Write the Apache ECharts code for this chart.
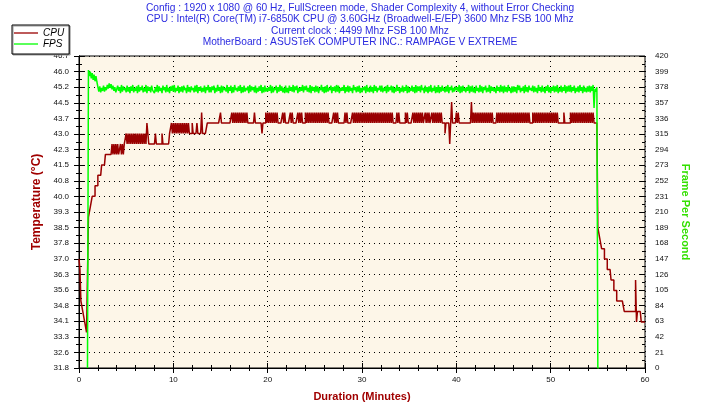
<!DOCTYPE html>
<html>
<head>
<meta charset="utf-8">
<script src="https://cdn.jsdelivr.net/npm/echarts@6/dist/echarts.min.js"></script>
<style>
    html, body {margin: 0; padding: 0; background: #fff;}
    #chart {width: 720px; height: 413px;}
</style>
</head>
<body>
<div id="chart"></div>
<script>
var titleLines = [
    'Config : 1920 x 1080 @ 60 Hz, FullScreen mode, Shader Complexity 4, without Error Checking',
    'CPU : Intel(R) Core(TM) i7-6850K CPU @ 3.60GHz (Broadwell-E/EP) 3600 Mhz FSB 100 Mhz',
    'Current clock : 4499 Mhz FSB 100 Mhz',
    'MotherBoard : ASUSTeK COMPUTER INC.: RAMPAGE V EXTREME'
];

// one sample every 0.1 minute (one row = 2 minutes)
var sampleStep = 0.1;

// temperature axis (left)
var tempMin = 31.8, tempMax = 46.7, tempStep = 0.745;
var tempTicks = ['31.8', '32.6', '33.3', '34.1', '34.8', '35.6', '36.3', '37.0', '37.8', '38.5', '39.3',
    '40.0', '40.8', '41.5', '42.3', '43.0', '43.7', '44.5', '45.2', '46.0', '46.7'];

// fps axis (right)
var fpsMin = 0, fpsMax = 420, fpsStep = 21;

var cpuTemp = [
    37.0, 36.5, 35.0, 35.0, 34.5, 34.5, 34.0, 34.0, 33.5, 33.5, 39.0, 39.0, 39.5, 39.5, 40.0, 40.0, 40.0, 40.5, 40.5, 40.5,
    41.0, 41.0, 41.0, 41.0, 41.5, 41.5, 41.5, 41.5, 42.0, 42.0, 42.0, 42.0, 42.0, 42.0, 42.0, 42.5, 42.0, 42.5, 42.0, 42.5,
    42.0, 42.5, 42.0, 42.0, 42.5, 42.0, 42.5, 42.0, 42.5, 42.5, 43.0, 42.5, 43.0, 42.5, 43.0, 42.5, 43.0, 42.5, 43.0, 42.5,
    43.0, 42.5, 43.0, 42.5, 43.0, 42.5, 43.0, 42.5, 43.0, 42.5, 43.0, 42.5, 43.5, 43.0, 42.5, 42.5, 42.5, 42.5, 42.5, 42.5,
    42.5, 43.0, 42.5, 42.5, 42.5, 42.5, 42.5, 42.5, 43.0, 42.5, 42.5, 42.5, 42.5, 42.5, 42.5, 42.5, 43.0, 43.0, 43.5, 43.0,
    43.5, 43.0, 43.5, 43.0, 43.5, 43.0, 43.5, 43.0, 43.5, 43.0, 43.5, 43.0, 43.5, 43.0, 43.5, 43.0, 43.5, 43.0, 43.0, 43.0,
    43.5, 43.0, 43.0, 43.0, 43.0, 43.5, 43.0, 43.0, 43.0, 43.0, 44.0, 43.0, 43.0, 43.0, 43.0, 43.0, 43.5, 43.5, 43.5, 43.5,
    43.5, 43.5, 43.5, 43.5, 43.5, 43.5, 43.5, 43.5, 43.5, 43.5, 44.0, 43.5, 43.5, 43.5, 43.5, 43.5, 43.5, 43.5, 43.5, 43.5,
    43.5, 43.5, 44.0, 43.5, 44.0, 43.5, 44.0, 43.5, 44.0, 43.5, 44.0, 43.5, 44.0, 43.5, 44.0, 43.5, 44.0, 43.5, 44.0, 43.5,
    43.5, 43.5, 43.5, 43.5, 43.5, 43.5, 44.0, 43.5, 43.5, 43.5, 43.5, 43.5, 43.5, 43.5, 43.0, 43.5, 43.5, 43.5, 44.0, 43.5,
    44.0, 43.5, 44.0, 43.5, 44.0, 43.5, 44.0, 43.5, 44.0, 43.5, 44.0, 43.5, 43.5, 43.5, 43.5, 43.5, 44.0, 43.5, 44.0, 43.5,
    43.5, 43.5, 43.5, 43.5, 44.0, 43.5, 44.0, 43.5, 43.5, 43.5, 43.5, 43.5, 44.0, 43.5, 44.0, 43.5, 44.0, 43.5, 43.5, 43.5,
    44.0, 43.5, 44.0, 43.5, 44.0, 43.5, 44.0, 43.5, 44.0, 43.5, 44.0, 43.5, 44.0, 43.5, 44.0, 43.5, 44.0, 43.5, 44.0, 43.5,
    44.0, 43.5, 44.0, 43.5, 44.0, 43.5, 43.5, 43.5, 43.5, 43.5, 44.0, 43.5, 44.0, 43.5, 44.0, 43.5, 43.5, 43.5, 43.5, 43.5,
    43.5, 43.5, 44.0, 43.5, 44.0, 43.5, 43.5, 43.5, 43.5, 43.5, 44.0, 43.5, 44.0, 43.5, 44.0, 43.5, 44.0, 43.5, 44.0, 43.5,
    44.0, 43.5, 44.0, 43.5, 44.0, 43.5, 44.0, 43.5, 44.0, 43.5, 44.0, 43.5, 44.0, 43.5, 44.0, 43.5, 44.0, 43.5, 44.0, 43.5,
    44.0, 43.5, 44.0, 43.5, 44.0, 43.5, 44.0, 43.5, 44.0, 43.5, 44.0, 43.5, 44.0, 43.5, 43.5, 43.5, 43.5, 44.0, 43.5, 44.0,
    43.5, 43.5, 43.5, 43.5, 43.5, 43.5, 44.0, 43.5, 44.0, 43.5, 43.5, 43.5, 43.5, 43.5, 44.0, 43.5, 44.0, 43.5, 44.0, 43.5,
    44.0, 43.5, 44.0, 43.5, 44.0, 43.5, 43.5, 44.0, 43.5, 44.0, 43.5, 44.0, 43.5, 43.5, 44.0, 43.5, 44.0, 43.5, 44.0, 43.5,
    44.0, 43.5, 44.0, 43.5, 44.0, 43.5, 43.5, 43.5, 43.0, 43.5, 43.5, 43.5, 43.5, 42.5, 43.5, 44.5, 43.5, 43.5, 43.5, 43.5,
    44.0, 43.5, 44.0, 43.5, 43.5, 43.5, 43.5, 43.5, 43.5, 43.5, 43.5, 43.5, 43.5, 43.5, 43.5, 43.5, 44.5, 43.5, 44.0, 43.5,
    44.0, 43.5, 44.0, 43.5, 44.0, 43.5, 44.0, 43.5, 44.0, 43.5, 44.0, 43.5, 44.0, 43.5, 44.0, 43.5, 44.0, 43.5, 44.0, 43.5,
    43.5, 43.5, 43.5, 44.0, 43.5, 44.0, 43.5, 44.0, 43.5, 44.0, 43.5, 44.0, 43.5, 44.0, 43.5, 44.0, 43.5, 44.0, 43.5, 44.0,
    43.5, 44.0, 43.5, 44.0, 43.5, 44.0, 43.5, 44.0, 43.5, 44.0, 43.5, 44.0, 43.5, 44.0, 43.5, 44.0, 43.5, 44.0, 43.5, 43.5,
    43.5, 44.0, 43.5, 44.0, 43.5, 44.0, 43.5, 44.0, 43.5, 44.0, 43.5, 44.0, 43.5, 44.0, 43.5, 44.0, 43.5, 44.0, 43.5, 44.0,
    43.5, 44.0, 43.5, 44.0, 43.5, 44.0, 43.5, 44.0, 43.5, 43.5, 43.5, 43.5, 43.5, 43.5, 44.0, 43.5, 43.5, 43.5, 43.5, 43.5,
    43.5, 44.0, 43.5, 44.0, 43.5, 44.0, 43.5, 44.0, 43.5, 44.0, 43.5, 44.0, 43.5, 44.0, 43.5, 44.0, 43.5, 44.0, 43.5, 44.0,
    43.5, 44.0, 43.5, 44.0, 43.5, 44.0, 43.5, 43.5, 43.5, 43.5, 38.5, 38.5, 38.0, 38.0, 37.5, 37.5, 37.5, 37.0, 37.0, 37.0,
    36.5, 36.5, 36.5, 36.5, 36.0, 36.0, 36.0, 35.5, 35.5, 35.5, 35.0, 35.0, 35.0, 35.0, 35.0, 35.0, 35.0, 35.0, 34.5, 34.5,
    34.5, 34.5, 34.5, 34.5, 34.5, 34.5, 34.5, 34.5, 34.5, 34.5, 36.0, 34.0, 34.5, 34.5, 34.5, 34.5, 34.0, 34.0, 34.0, 34.0,
    34.0
];

var fps = [
    null, null, null, null, null, null, null, null, null, 0, 401, 393, 399, 390, 397, 388, 395, 386, 393, 385,
    387, 372, 379, 371, 377, 373, 380, 372, 378, 374, 381, 376, 383, 377, 382, 375, 380, 373, 378, 371,
    371, 380, 373, 378, 370, 381, 372, 379, 374, 377, 371, 380, 372, 378, 370, 379, 373, 381, 371, 377,
    373, 379, 370, 381, 372, 378, 374, 380, 371, 377, 372, 381, 370, 379, 373, 378, 371, 380, 374, 376,
    370, 378, 372, 381, 371, 379, 373, 377, 370, 380, 374, 378, 371, 381, 372, 377, 370, 379, 373, 380,
    372, 381, 371, 377, 373, 380, 370, 378, 372, 379, 371, 380, 374, 377, 370, 381, 372, 378, 371, 379,
    374, 377, 371, 380, 372, 381, 370, 378, 373, 379, 371, 377, 372, 380, 370, 378, 374, 381, 371, 378,
    371, 379, 374, 380, 370, 377, 372, 381, 373, 378, 370, 380, 371, 379, 374, 377, 372, 381, 370, 378,
    373, 380, 370, 378, 371, 381, 374, 377, 372, 379, 373, 381, 370, 378, 371, 380, 372, 377, 374, 379,
    370, 381, 372, 379, 374, 378, 371, 380, 370, 377, 372, 379, 373, 381, 370, 378, 371, 380, 372, 377,
    372, 378, 373, 381, 370, 379, 371, 377, 374, 380, 370, 378, 372, 381, 373, 379, 371, 377, 370, 380,
    371, 377, 370, 380, 373, 378, 372, 381, 371, 379, 374, 380, 370, 377, 372, 378, 373, 381, 371, 379,
    374, 380, 372, 377, 371, 381, 370, 379, 373, 378, 371, 380, 372, 379, 370, 377, 374, 381, 372, 378,
    370, 379, 371, 381, 372, 377, 374, 380, 370, 378, 373, 379, 371, 381, 372, 380, 370, 377, 373, 378,
    373, 381, 370, 378, 372, 380, 371, 379, 373, 377, 370, 381, 374, 378, 371, 379, 372, 380, 370, 377,
    371, 378, 374, 379, 370, 381, 372, 377, 371, 380, 372, 378, 370, 381, 373, 379, 371, 377, 374, 380,
    372, 380, 371, 377, 373, 379, 370, 381, 372, 378, 374, 380, 371, 379, 370, 377, 372, 381, 373, 378,
    370, 377, 372, 380, 371, 378, 373, 381, 370, 379, 371, 377, 373, 380, 372, 378, 370, 381, 371, 379,
    373, 379, 371, 381, 374, 377, 370, 380, 372, 378, 370, 379, 372, 381, 371, 377, 373, 380, 370, 378,
    371, 381, 370, 378, 372, 380, 373, 377, 371, 379, 372, 381, 370, 378, 374, 380, 371, 377, 372, 379,
    374, 378, 372, 381, 370, 379, 371, 380, 373, 377, 371, 378, 373, 381, 370, 379, 372, 380, 371, 377,
    370, 380, 373, 377, 371, 381, 372, 379, 370, 378, 374, 380, 371, 377, 372, 381, 370, 379, 373, 378,
    372, 377, 370, 380, 373, 378, 371, 381, 372, 379, 370, 380, 372, 378, 371, 381, 373, 377, 370, 379,
    371, 379, 372, 378, 370, 381, 374, 380, 371, 377, 373, 379, 370, 381, 372, 378, 371, 380, 374, 377,
    373, 380, 371, 379, 372, 377, 370, 381, 373, 378, 371, 380, 372, 377, 370, 379, 373, 381, 371, 378,
    370, 378, 373, 380, 371, 379, 372, 381, 370, 377, 372, 380, 371, 378, 373, 381, 370, 379, 372, 380,
    372, 381, 371, 378, 373, 380, 370, 377, 372, 379, 371, 381, 373, 378, 370, 380, 372, 377, 371, 379,
    372, 380, 371, 379, 373, 381, 350, 376, 372, 378, 0, null, null, null, null, null, null, null, null, null,
    null, null, null, null, null, null, null, null, null, null, null, null, null, null, null, null, null, null, null, null,
    null, null, null, null, null, null, null, null, null, null, null, null, null, null, null, null, null, null, null, null,
    null
];

var minutes = cpuTemp.map(function (v, i) {
    return +(i * sampleStep).toFixed(1);
});
var cpuData = cpuTemp.map(function (v, i) {
    return [minutes[i], v];
});
var fpsData = fps.map(function (v, i) {
    return [minutes[i], v];
});

var FONT = 'Liberation Sans, Arial, sans-serif';
var dotted = {color: '#000', width: 1, type: [1, 4]};

function tickAxis(pos, min, max, step) {
    // second axis on the same side, only to draw the ticks on the inner side
    return {
        type: 'value', position: pos, min: min, max: max, interval: step,
        axisLine: {show: false},
        axisLabel: {show: false},
        splitLine: {show: false},
        axisTick: {show: true, inside: true, length: 5, lineStyle: {color: '#000'}},
        minorTick: {show: true, splitNumber: 2, length: 3, lineStyle: {color: '#000'}}
    };
}

var myChart = echarts.init(document.getElementById('chart'), null, {renderer: 'canvas'});
var option = {
    animation: false,
    backgroundColor: '#fff',
    title: {
        text: titleLines.join('\n'),
        left: 'center',
        top: 2,
        padding: 0,
        textStyle: {fontFamily: FONT, fontSize: 10.2, fontWeight: 'normal', color: '#2B2BE0', lineHeight: 11.5}
    },
    legend: {
        data: ['CPU', 'FPS'],
        orient: 'vertical',
        left: 12, top: 25,
        icon: 'path://M0,0H24V1.3H0Z',
        itemWidth: 24, itemHeight: 10, itemGap: 1,
        padding: [3, 5, 5, 2],
        backgroundColor: '#fff',
        borderColor: '#000', borderWidth: 1,
        shadowColor: '#999', shadowOffsetX: 1, shadowOffsetY: 1, shadowBlur: 0,
        textStyle: {fontFamily: FONT, fontSize: 10, fontStyle: 'italic', color: '#000'}
    },
    grid: {
        left: 79, right: 75, top: 56, bottom: 45,
        show: true, backgroundColor: '#FDF6E8', borderColor: '#000', borderWidth: 1,
        containLabel: false, outerBoundsMode: 'none'
    },
    xAxis: [{
        type: 'value', min: 0, max: 60, interval: 10,
        name: 'Duration (Minutes)', nameLocation: 'middle', nameGap: 23,
        nameTextStyle: {fontFamily: FONT, fontSize: 11, fontWeight: 'bold', color: '#A00000'},
        axisLine: {show: true, lineStyle: {color: '#000'}},
        axisTick: {show: true, length: 5, lineStyle: {color: '#000'}},
        minorTick: {show: true, splitNumber: 5, length: 3, lineStyle: {color: '#000'}},
        axisLabel: {fontFamily: FONT, fontSize: 8, color: '#111', margin: 8},
        splitLine: {show: true, lineStyle: dotted}
    }, {
        type: 'value', position: 'bottom', min: 0, max: 60, interval: 10,
        axisLine: {show: false},
        axisLabel: {show: false},
        splitLine: {show: false},
        axisTick: {show: true, inside: true, length: 5, lineStyle: {color: '#000'}},
        minorTick: {show: true, splitNumber: 5, length: 3, lineStyle: {color: '#000'}}
    }],
    yAxis: [{
        type: 'value', position: 'left', min: tempMin, max: tempMax, interval: tempStep,
        name: 'Temperature (°C)', nameLocation: 'middle', nameGap: 26,
        nameTextStyle: {fontFamily: FONT, fontSize: 12, fontWeight: 'bold', color: '#A00000', padding: [0, 0, 0, 20]},
        axisLine: {show: true, lineStyle: {color: '#000'}},
        axisTick: {show: true, length: 5, lineStyle: {color: '#000'}},
        minorTick: {show: true, splitNumber: 2, length: 3, lineStyle: {color: '#000'}},
        axisLabel: {
            fontFamily: FONT, fontSize: 8, color: '#111', margin: 10,
            formatter: function (v) {
                return tempTicks[Math.round((v - tempMin) / tempStep)];
            }
        },
        splitLine: {show: true, lineStyle: dotted}
    }, {
        type: 'value', position: 'right', min: fpsMin, max: fpsMax, interval: fpsStep,
        name: 'Frame Per Second', nameLocation: 'middle', nameGap: 22, nameRotate: -90,
        nameTextStyle: {fontFamily: FONT, fontSize: 11, fontWeight: 'bold', color: '#33E000'},
        axisLine: {show: true, lineStyle: {color: '#000'}},
        axisTick: {show: true, length: 5, lineStyle: {color: '#000'}},
        minorTick: {show: true, splitNumber: 2, length: 3, lineStyle: {color: '#000'}},
        axisLabel: {fontFamily: FONT, fontSize: 8, color: '#111', margin: 10},
        splitLine: {show: false}
    },
        tickAxis('left', tempMin, tempMax, tempStep),
        tickAxis('right', fpsMin, fpsMax, fpsStep)
    ],
    series: [{
        name: 'CPU',
        type: 'line',
        step: 'end',
        symbol: 'none',
        xAxisIndex: 0, yAxisIndex: 0,
        color: '#990000',
        lineStyle: {color: '#990000', width: 1.5},
        data: cpuData
    }, {
        name: 'FPS',
        type: 'line',
        step: 'end',
        symbol: 'none',
        xAxisIndex: 0, yAxisIndex: 1,
        color: '#00FF00',
        lineStyle: {color: '#00FF00', width: 1.5},
        data: fpsData
    }]
};
myChart.setOption(option);
</script>
</body>
</html>
